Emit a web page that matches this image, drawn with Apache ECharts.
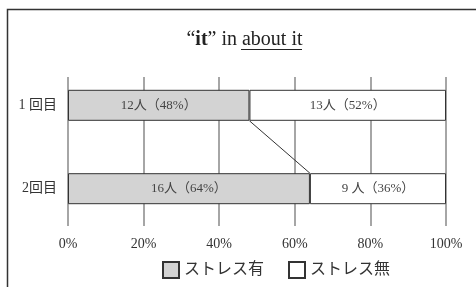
<!DOCTYPE html>
<html><head><meta charset="utf-8">
<script src="https://cdn.jsdelivr.net/npm/echarts@6/dist/echarts.min.js"></script>
<style>html,body{margin:0;padding:0;background:#fff}#c{width:476px;height:287px}</style>
</head><body><div id="c"></div>
<script>
const categories = ['1 回目', '2回目'];
const seriesNames = ['ストレス有', 'ストレス無'];
const stressPct = [48, 64];
const noStressPct = [52, 36];
const stressCount = [12, 16];
const noStressCount = [13, 9];
const tickLabels = ['0%', '20%', '40%', '60%', '80%', '100%'];

const FONT = '"Liberation Serif", "DejaVu Serif", "Noto Sans CJK JP", serif';
const BAR_W = 31;
const fmt = (n, p) => (n < 10 ? n + ' ' : n) + '人（' + p + '%）';

const chart = echarts.init(document.getElementById('c'), null, {renderer: 'canvas'});
chart.setOption({
  animation: false,
  backgroundColor: '#fff',
  textStyle: {fontFamily: FONT},
  title: {
    text: '{q|“}{b|it}{q|” in about it}',
    left: 239.5, top: 25, textAlign: 'center',
    textStyle: {
      fontWeight: 'normal', fontFamily: FONT, fontSize: 20,
      rich: {
        q: {fontFamily: FONT, fontSize: 20, fontWeight: 'normal', color: '#222'},
        b: {fontFamily: FONT, fontSize: 20, fontWeight: 'bold', color: '#222'}
      }
    }
  },
  graphic: [
    {type: 'rect', shape: {x: 7.5, y: 9.5, width: 520, height: 320}, style: {fill: 'none', stroke: '#333', lineWidth: 1.5}, silent: true},
    {type: 'line', shape: {x1: 241, y1: 49.5, x2: 302, y2: 49.5}, style: {stroke: '#222', lineWidth: 1}, silent: true}
  ],
  legend: {
    data: seriesNames,
    left: 157, top: 256,
    itemWidth: 16, itemHeight: 16, itemGap: 24,
    icon: 'rect',
    textStyle: {fontFamily: FONT, fontSize: 16, color: '#333'}
  },
  grid: [
    {left: 68, right: 30, top: 77, height: 149},
    {left: 68, right: 30, top: 63.6, height: 166.8}
  ],
  xAxis: [
    {
      type: 'value', gridIndex: 0, min: 0, max: 100, interval: 20,
      axisLine: {show: false}, axisTick: {show: false},
      splitLine: {show: true, showMinLine: true, showMaxLine: true, lineStyle: {color: '#888', width: 1.5}},
      axisLabel: {formatter: (v) => tickLabels[Math.round(v / 20)], fontFamily: FONT, fontSize: 14, color: '#333', margin: 11}
    },
    {type: 'value', gridIndex: 1, min: 0, max: 100, show: false}
  ],
  yAxis: [
    {type: 'value', gridIndex: 0, show: false},
    {
      type: 'category', gridIndex: 1, data: categories, inverse: true,
      axisLine: {show: false}, axisTick: {show: false}, splitLine: {show: false},
      axisLabel: {fontFamily: FONT, fontSize: 14, color: '#333', margin: 11}
    }
  ],
  series: [
    {
      name: seriesNames[0], type: 'bar', stack: 's', xAxisIndex: 1, yAxisIndex: 1,
      barWidth: BAR_W, data: stressPct,
      itemStyle: {color: '#d3d3d3', borderColor: '#333', borderWidth: 1},
      label: {show: true, position: 'inside', fontFamily: FONT, fontSize: 13, color: '#444',
        formatter: (p) => fmt(stressCount[p.dataIndex], stressPct[p.dataIndex])}
    },
    {
      name: seriesNames[1], type: 'bar', stack: 's', xAxisIndex: 1, yAxisIndex: 1,
      barWidth: BAR_W, data: noStressPct,
      itemStyle: {color: '#fff', borderColor: '#333', borderWidth: 1},
      label: {show: true, position: 'inside', fontFamily: FONT, fontSize: 13, color: '#444',
        formatter: (p) => fmt(noStressCount[p.dataIndex], noStressPct[p.dataIndex])}
    },
    {
      type: 'custom', xAxisIndex: 1, yAxisIndex: 1, silent: true,
      data: [[stressPct[0], stressPct[1]]],
      encode: {x: [0, 1]},
      renderItem: (params, api) => {
        const a = api.coord([api.value(0), 0]);
        const b = api.coord([api.value(1), 1]);
        return {type: 'line', shape: {x1: a[0], y1: a[1] + BAR_W / 2, x2: b[0], y2: b[1] - BAR_W / 2},
          style: {stroke: '#333', lineWidth: 1}};
      }
    }
  ]
});
</script></body></html>
